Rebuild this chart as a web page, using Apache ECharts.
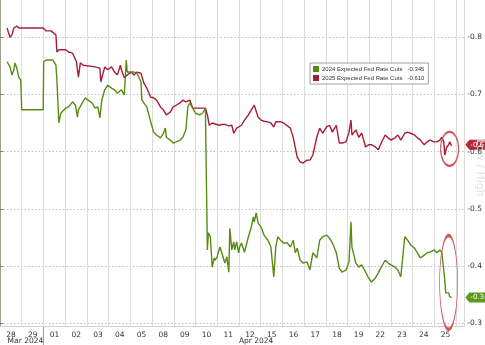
<!DOCTYPE html>
<html>
<head>
<meta charset="utf-8">
<script src="https://cdn.jsdelivr.net/npm/echarts@6/dist/echarts.min.js"></script>
<style>
html,body{margin:0;padding:0;background:#fff;}
#chart{width:485px;height:345px;}
</style>
</head>
<body>
<div id="chart"></div>
<script>
// Trading-day labels (x axis: day index, day k spans [k, k+1])
const dayLabels = ['28','29','01','02','03','04','05','08','09','10','11','12','15','16','17','18','19','22','23','24','25'];
const monthLabels = [['Mar 2024', 0.35], ['Apr 2024', 11.0]];
const seriesNames = ['2024 Expected Fed Rate Cuts', '2025 Expected Fed Rate Cuts'];
const lastValues = [-0.345, -0.610];

// 2024 Expected Fed Rate Cuts: [trading-day position, value]
const cuts2024 = [[0.325,-0.757],[0.46,-0.748],[0.55,-0.734],[0.64,-0.743],[0.685,-0.755],[0.775,-0.746],[0.865,-0.730],[0.955,-0.725],[1.0,-0.673],[1.99,-0.673],[2.01,-0.757],[2.124,-0.760],[2.44,-0.760],[2.574,-0.751],[2.62,-0.725],[2.71,-0.650],[2.80,-0.667],[2.89,-0.669],[3.024,-0.676],[3.159,-0.678],[3.339,-0.687],[3.474,-0.681],[3.564,-0.660],[3.609,-0.673],[3.789,-0.685],[3.924,-0.694],[4.059,-0.690],[4.239,-0.685],[4.374,-0.676],[4.508,-0.678],[4.598,-0.659],[4.688,-0.690],[4.823,-0.708],[4.958,-0.716],[5.138,-0.711],[5.273,-0.708],[5.408,-0.702],[5.588,-0.708],[5.723,-0.699],[5.813,-0.760],[5.858,-0.739],[6.038,-0.739],[6.173,-0.739],[6.308,-0.737],[6.488,-0.722],[6.533,-0.690],[6.623,-0.685],[6.758,-0.678],[6.938,-0.652],[7.073,-0.634],[7.208,-0.629],[7.388,-0.624],[7.523,-0.632],[7.613,-0.641],[7.658,-0.625],[7.837,-0.620],[7.972,-0.615],[8.107,-0.617],[8.287,-0.620],[8.422,-0.625],[8.557,-0.638],[8.647,-0.678],[8.737,-0.685],[8.872,-0.676],[9.007,-0.667],[9.187,-0.664],[9.322,-0.667],[9.457,-0.676],[9.547,-0.428],[9.592,-0.458],[9.682,-0.451],[9.772,-0.398],[9.862,-0.414],[9.907,-0.410],[9.997,-0.416],[10.087,-0.428],[10.132,-0.433],[10.222,-0.433],[10.312,-0.410],[10.357,-0.405],[10.447,-0.416],[10.536,-0.389],[10.581,-0.466],[10.671,-0.428],[10.761,-0.442],[10.806,-0.428],[10.896,-0.442],[10.986,-0.423],[11.031,-0.433],[11.121,-0.440],[11.256,-0.424],[11.436,-0.451],[11.571,-0.468],[11.661,-0.486],[11.706,-0.477],[11.796,-0.493],[11.886,-0.475],[12.021,-0.468],[12.156,-0.454],[12.336,-0.445],[12.471,-0.433],[12.606,-0.381],[12.696,-0.433],[12.786,-0.451],[12.921,-0.445],[13.056,-0.440],[13.235,-0.440],[13.370,-0.433],[13.505,-0.445],[13.595,-0.423],[13.685,-0.431],[13.820,-0.410],[13.955,-0.405],[14.135,-0.407],[14.270,-0.393],[14.405,-0.423],[14.585,-0.414],[14.720,-0.445],[14.855,-0.451],[15.035,-0.454],[15.170,-0.449],[15.305,-0.440],[15.485,-0.423],[15.620,-0.396],[15.755,-0.389],[15.934,-0.393],[16.069,-0.407],[16.159,-0.477],[16.204,-0.433],[16.384,-0.405],[16.519,-0.398],[16.654,-0.402],[16.834,-0.389],[16.969,-0.379],[17.104,-0.372],[17.284,-0.379],[17.419,-0.388],[17.554,-0.398],[17.734,-0.410],[17.869,-0.405],[18.004,-0.402],[18.184,-0.398],[18.319,-0.393],[18.454,-0.381],[18.634,-0.451],[18.769,-0.445],[18.904,-0.437],[19.084,-0.431],[19.219,-0.423],[19.354,-0.414],[19.533,-0.419],[19.668,-0.423],[19.803,-0.424],[19.983,-0.428],[20.118,-0.423],[20.253,-0.428],[20.343,-0.424],[20.433,-0.423],[20.478,-0.375],[20.523,-0.353],[20.568,-0.355],[20.658,-0.353],[20.703,-0.346],[20.793,-0.345]];

// 2025 Expected Fed Rate Cuts: [trading-day position, value]
const cuts2025 = [[0.325,-0.816],[0.46,-0.800],[0.55,-0.804],[0.64,-0.816],[0.775,-0.8195],[0.865,-0.816],[1.99,-0.816],[2.124,-0.811],[2.35,-0.811],[2.44,-0.8125],[2.574,-0.804],[2.62,-0.774],[2.71,-0.778],[2.80,-0.781],[3.024,-0.778],[3.159,-0.774],[3.339,-0.772],[3.429,-0.765],[3.519,-0.757],[3.609,-0.730],[3.699,-0.755],[3.834,-0.751],[3.924,-0.748],[4.374,-0.748],[4.598,-0.746],[4.643,-0.722],[4.823,-0.748],[4.958,-0.743],[5.138,-0.748],[5.273,-0.739],[5.408,-0.734],[5.543,-0.751],[5.588,-0.743],[5.723,-0.729],[5.858,-0.734],[6.038,-0.739],[6.173,-0.734],[6.308,-0.739],[6.488,-0.737],[6.623,-0.720],[6.758,-0.711],[6.938,-0.695],[7.073,-0.694],[7.208,-0.690],[7.388,-0.678],[7.523,-0.673],[7.658,-0.664],[7.837,-0.669],[7.972,-0.678],[8.107,-0.681],[8.287,-0.685],[8.422,-0.690],[8.557,-0.687],[8.737,-0.690],[8.872,-0.676],[9.457,-0.676],[9.547,-0.664],[9.637,-0.646],[9.772,-0.650],[10.087,-0.646],[10.312,-0.648],[10.536,-0.645],[10.671,-0.646],[10.761,-0.632],[10.896,-0.641],[10.986,-0.641],[11.121,-0.646],[11.256,-0.655],[11.436,-0.664],[11.571,-0.673],[11.706,-0.681],[11.886,-0.660],[12.021,-0.655],[12.156,-0.653],[12.336,-0.652],[12.471,-0.650],[12.606,-0.643],[12.696,-0.652],[12.786,-0.653],[12.921,-0.652],[13.056,-0.650],[13.370,-0.641],[13.505,-0.624],[13.685,-0.590],[13.820,-0.582],[13.955,-0.580],[14.135,-0.585],[14.270,-0.585],[14.405,-0.594],[14.585,-0.625],[14.720,-0.641],[14.855,-0.632],[15.035,-0.643],[15.170,-0.646],[15.305,-0.634],[15.485,-0.646],[15.620,-0.615],[15.755,-0.615],[15.934,-0.617],[16.069,-0.634],[16.159,-0.655],[16.204,-0.629],[16.384,-0.638],[16.519,-0.625],[16.654,-0.632],[16.834,-0.608],[16.969,-0.612],[17.104,-0.612],[17.284,-0.608],[17.419,-0.603],[17.554,-0.615],[17.734,-0.629],[17.869,-0.624],[18.004,-0.620],[18.184,-0.624],[18.319,-0.629],[18.454,-0.620],[18.634,-0.632],[18.769,-0.634],[18.904,-0.632],[19.084,-0.629],[19.219,-0.624],[19.354,-0.620],[19.533,-0.612],[19.668,-0.617],[19.803,-0.620],[19.983,-0.617],[20.118,-0.617],[20.253,-0.620],[20.343,-0.625],[20.433,-0.617],[20.478,-0.594],[20.568,-0.608],[20.658,-0.612],[20.703,-0.617],[20.793,-0.610]];

const colors = ['#5a8a16', '#a31f38'];
const FONT = 'DejaVu Sans';

const chart = echarts.init(document.getElementById('chart'), null, {renderer: 'canvas'});
const option = {
  animation: false,
  backgroundColor: '#ffffff',
  grid: {left: -7.23, right: 17, top: 0, bottom: 19, containLabel: false},
  legend: {
    orient: 'vertical', left: 310, top: 63,
    data: seriesNames,
    icon: 'rect', itemWidth: 6, itemHeight: 6, itemGap: 3,
    padding: [3, 4, 3, 3],
    backgroundColor: '#ffffff', borderColor: '#a0a0a0', borderWidth: 1,
    textStyle: {fontSize: 6, color: '#333', fontFamily: 'Liberation Sans', padding: [0,0,0,-2]},
    formatter: function (name) {
      const i = seriesNames.indexOf(name);
      return name + '   ' + lastValues[i].toFixed(3);
    }
  },
  xAxis: {
    type: 'value', min: 0, max: 21.38, interval: 1,
    axisLine: {show: true, lineStyle: {color: '#d0d0d0'}},
    axisTick: {show: false},
    splitLine: {show: true, lineStyle: {color: '#dcdcdc', width: 1, type: 'solid'}},
    axisLabel: {
      show: true, color: '#333', fontSize: 7.5, fontFamily: FONT, margin: 5,
      padding: [0, 0, 0, 22.23],
      showMaxLabel: false,
      formatter: function (v) {
        const k = Math.round(v);
        return (Math.abs(v - k) < 1e-6 && k >= 0 && k < dayLabels.length) ? dayLabels[k] : '';
      }
    }
  },
  yAxis: {
    type: 'value', position: 'right', inverse: true,
    min: -0.865, max: -0.295,
    axisLine: {show: true, lineStyle: {color: '#9aa38c'}},
    axisTick: {show: true, length: 3, lineStyle: {color: '#777'}},
    splitLine: {show: true, showMinLine: false, showMaxLine: false, lineStyle: {color: '#bdbdbd', type: [1.5, 2], width: 1}},
    axisLabel: {
      color: '#333', fontSize: 7.5, fontFamily: FONT, margin: 3,
      showMinLabel: false, showMaxLabel: false,
      formatter: function (v) { return v.toFixed(1); }
    }
  },
  series: [
    {name: seriesNames[0], type: 'line', data: cuts2024, showSymbol: false, color: colors[0],
     lineStyle: {width: 1.4, color: colors[0]}, z: 3},
    {name: seriesNames[1], type: 'line', data: cuts2025, showSymbol: false, color: colors[1],
     lineStyle: {width: 1.4, color: colors[1]}, z: 2}
  ]
};
chart.setOption(option);

// decorations placed through the chart's own coordinate conversion
const last24 = cuts2024[cuts2024.length - 1];
const last25 = cuts2025[cuts2025.length - 1];
const p24 = chart.convertToPixel({gridIndex: 0}, last24);
const p25 = chart.convertToPixel({gridIndex: 0}, last25);
const axisX = chart.convertToPixel({gridIndex: 0}, [21.38, -0.3])[0];
const bottomY = chart.convertToPixel({gridIndex: 0}, [0, -0.295])[1];
const sepX = chart.convertToPixel({gridIndex: 0}, [2, -0.3])[0];

function tag(y, color, txt) {
  return {
    type: 'group', children: [
      {type: 'polygon', shape: {points: [[axisX + 1, y], [axisX + 5, y - 5], [axisX + 30, y - 5], [axisX + 30, y + 5], [axisX + 5, y + 5]]},
       style: {fill: color}},
      {type: 'text', x: axisX + 6, y: y, style: {text: txt, fill: '#fff', fontSize: 7, fontFamily: FONT, verticalAlign: 'middle'}}
    ]
  };
}
function ring(cx, cy, rx, ry) {
  return {type: 'circle', x: cx, y: cy, scaleX: rx / 10, scaleY: ry / 10,
    shape: {cx: 0, cy: 0, r: 10},
    style: {fill: 'none', stroke: '#d0575c', lineWidth: 1.6, strokeNoScale: true}, z: 10};
}
const graphics = [
  ring(p25[0] - 2, p25[1] + 3, 9, 17),
  ring(p24[0] - 3, p24[1] - 15, 9, 47),
  tag(p25[1] - 1, '#b0283a', lastValues[1].toFixed(3)),
  tag(p24[1], '#5c9a1c', lastValues[0].toFixed(3)),
  {type: 'line', shape: {x1: sepX, y1: bottomY, x2: sepX, y2: 345}, style: {stroke: '#999', lineWidth: 1}},
  {type: 'text', x: 480, y: 168, rotation: -Math.PI / 2,
   style: {text: 'Low / High', fill: '#e2e2e2', fontSize: 11, fontFamily: FONT, align: 'center', verticalAlign: 'middle'}}
];
monthLabels.forEach(function (m) {
  const px = chart.convertToPixel({gridIndex: 0}, [m[1], -0.3])[0];
  graphics.push({type: 'text', x: px, y: 337, style: {text: m[0], fill: '#333', fontSize: 7.5, fontFamily: FONT}});
});
chart.setOption({graphic: graphics});
</script>
</body>
</html>
